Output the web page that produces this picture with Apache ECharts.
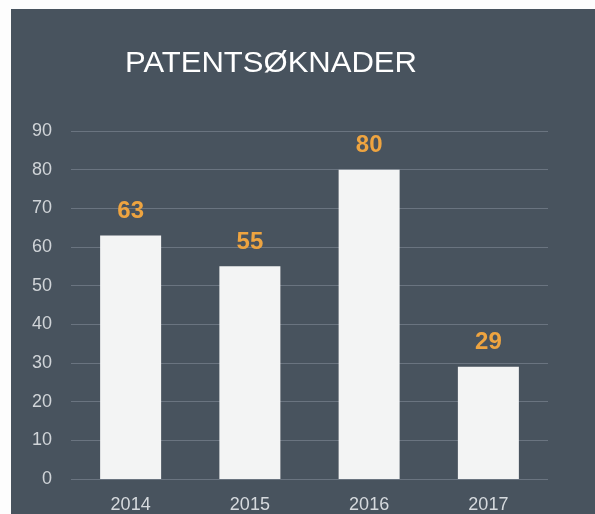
<!DOCTYPE html>
<html>
<head>
<meta charset="utf-8">
<script src="https://cdn.jsdelivr.net/npm/echarts@6/dist/echarts.min.js"></script>
<style>
  html, body { margin: 0; padding: 0; background: #fdfdfd; }
  #chart { width: 595px; height: 514px; }
</style>
</head>
<body>
<div id="chart"></div>
<script>
const years = ['2014', '2015', '2016', '2017']
const applications = [63, 55, 80, 29]
const yTicks = { min: 0, max: 90, interval: 10 }

const chart = echarts.init(document.getElementById('chart'))

const option = {
  backgroundColor: '#fdfdfd',
  graphic: [
    {
      type: 'rect',
      z: -10,
      shape: { x: 11, y: 9, width: 584, height: 505 },
      style: { fill: '#48535e' }
    },
    {
      // title, stretched a little to mimic the wide letter spacing
      type: 'text',
      x: 125,
      y: 49,
      scaleX: 1.07,
      style: {
        text: 'PATENTSØKNADER',
        fill: '#ffffff',
        font: '29px "Liberation Sans", Arial, sans-serif'
      }
    }
  ],
  grid: {
    left: 71,
    right: 47,
    top: 131,
    bottom: 35
  },
  xAxis: {
    type: 'category',
    data: years,
    axisLine: { show: false },
    axisTick: { show: false },
    axisLabel: {
      color: '#d6dade',
      fontSize: 18,
      fontFamily: 'Liberation Sans, Arial, sans-serif',
      margin: 17
    }
  },
  yAxis: {
    type: 'value',
    min: yTicks.min,
    max: yTicks.max,
    interval: yTicks.interval,
    axisLine: { show: false },
    axisTick: { show: false },
    splitLine: { lineStyle: { color: '#6a7480', width: 1 } },
    axisLabel: {
      color: '#d0d4d8',
      fontSize: 18,
      fontFamily: 'Liberation Sans, Arial, sans-serif',
      margin: 19
    }
  },
  series: [
    {
      type: 'bar',
      data: applications,
      barWidth: 61,
      itemStyle: { color: '#f3f4f4' },
      label: {
        show: true,
        position: 'top',
        distance: 12,
        color: '#eea440',
        fontSize: 24,
        fontWeight: 'bold',
        fontFamily: 'Liberation Sans, Arial, sans-serif'
      }
    }
  ]
}

chart.setOption(option)
</script>
</body>
</html>
